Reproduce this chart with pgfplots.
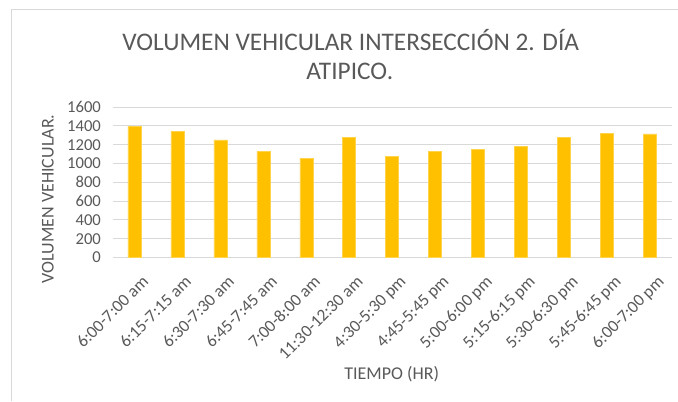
\documentclass[border=0pt]{standalone}
\usepackage{fontspec}
\setmainfont{Carlito}
\usepackage{pgfplots}
\pgfplotsset{compat=1.18}
\definecolor{barc}{HTML}{FFC000}
\definecolor{gridc}{HTML}{D9D9D9}
\definecolor{txt}{HTML}{595959}
\begin{document}
\begin{tikzpicture}
\begin{scope}[x=0.75pt,y=0.75pt]
  \path (0,0) rectangle (678,401);
  \draw[gridc,line width=0.75pt] (12,0) -- (12,391) -- (678,391);
  \node[txt,font=\fontsize{19}{21}\selectfont] at (351,361) {VOLUMEN VEHICULAR INTERSECCIÓN 2. DÍA};
  \node[txt,font=\fontsize{19}{21}\selectfont] at (350,330) {ATIPICO.};
  \node[txt,font=\fontsize{13.5}{15}\selectfont,rotate=90] at (48,202) {VOLUMEN VEHICULAR.};
  \node[txt,font=\fontsize{13.5}{15}\selectfont] at (392,27) {TIEMPO (HR)};
\end{scope}
\begin{axis}[
  at={(84.75pt,107.5pt)}, anchor=south west,
  scale only axis, width=419.25pt, height=112.8pt,
  ybar, bar width=9.75pt,
  xmin=-0.5, xmax=12.5, ymin=0, ymax=1600,
  ytick={0,200,...,1600},
  xtick=data,
  xticklabels={6:00-7:00 am,6:15-7:15 am,6:30-7:30 am,6:45-7:45 am,7:00-8:00 am,11:30-12:30 am,4:30-5:30 pm,4:45-5:45 pm,5:00-6:00 pm,5:15-6:15 pm,5:30-6:30 pm,5:45-6:45 pm,6:00-7:00 pm},
  x tick label style={rotate=45, anchor=north east, font=\fontsize{13}{15}\selectfont, text=txt, xshift=1pt, yshift=-6pt},
  y tick label style={font=\fontsize{12.5}{14}\selectfont, text=txt, xshift=-5.5pt},
  /pgf/number format/assume math mode=true,
  /pgf/number format/1000 sep={},
  ymajorgrids, grid style={gridc, line width=0.75pt},
  axis line style={draw=none},
  axis x line*=bottom,
  x axis line style={draw=gridc, line width=0.75pt},
  tick style={draw=none},
]
\addplot[fill=barc, draw=barc!70!white] coordinates {
  (0,1398) (1,1345) (2,1252) (3,1128) (4,1057) (5,1277) (6,1075)
  (7,1128) (8,1149) (9,1185) (10,1277) (11,1323) (12,1316)};
\end{axis}
\end{tikzpicture}
\end{document}
